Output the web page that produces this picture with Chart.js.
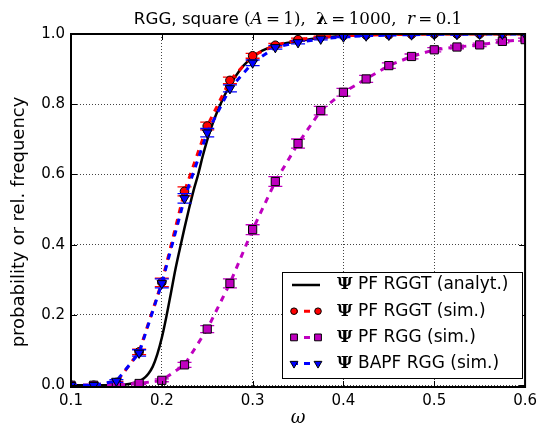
<!DOCTYPE html>
<html>
<head>
<meta charset="utf-8">
<script src="https://cdn.jsdelivr.net/npm/chart.js@4.4.1/dist/chart.umd.min.js"></script>
<style>
  html, body { margin: 0; padding: 0; background: #fff; }
  canvas { display: block; }
</style>
</head>
<body>
<canvas id="chart" width="542" height="434"></canvas>
<script>
// Simulation grid (omega) and the three simulated series with their error bars.
const omega = [0.1, 0.125, 0.15, 0.175, 0.2, 0.225, 0.25, 0.275, 0.3, 0.325, 0.35,
  0.375, 0.4, 0.425, 0.45, 0.475, 0.5, 0.525, 0.55, 0.575, 0.6];

const pfRggtSim = [0, 0, 0.008, 0.095, 0.293, 0.552, 0.738, 0.868, 0.938, 0.968, 0.984,
  0.991, 0.995, 0.997, 0.998, 0.999, 1, 1, 1, 1, 1];
const pfRggtErr = [0, 0.001, 0.003, 0.008, 0.012, 0.013, 0.011, 0.009, 0.007, 0.005, 0.004,
  0.003, 0.002, 0.0015, 0.001, 0.001, 0, 0, 0, 0, 0];

const pfRggSim = [0, 0, 0, 0.005, 0.014, 0.058, 0.16, 0.29, 0.443, 0.58, 0.688,
  0.782, 0.834, 0.872, 0.91, 0.936, 0.955, 0.963, 0.969, 0.979, 0.984];
const pfRggErr = [0, 0, 0, 0.003, 0.004, 0.007, 0.01, 0.013, 0.014, 0.014, 0.013,
  0.012, 0.011, 0.01, 0.008, 0.007, 0.006, 0.005, 0.005, 0.004, 0.004];

const bapfRggSim = [0, 0, 0.012, 0.092, 0.29, 0.532, 0.719, 0.845, 0.918, 0.962, 0.976,
  0.986, 0.992, 0.995, 0.997, 0.998, 0.999, 0.999, 1, 1, 1];
const bapfRggErr = [0, 0.001, 0.004, 0.009, 0.013, 0.0135, 0.012, 0.01, 0.008, 0.005, 0.004,
  0.003, 0.002, 0.0015, 0.001, 0.001, 0.001, 0.001, 0, 0, 0];

// Analytical curve.
const analytOmega = [0.1, 0.14, 0.15, 0.16, 0.17, 0.175, 0.18, 0.185, 0.19, 0.195, 0.2,
  0.205, 0.21, 0.215, 0.22, 0.225, 0.23, 0.235, 0.24, 0.245, 0.25, 0.255, 0.26, 0.265,
  0.27, 0.28, 0.29, 0.3, 0.31, 0.325, 0.35, 0.375, 0.4, 0.45, 0.5, 0.6];
const analytValue = [0, 0, 0.0005, 0.002, 0.007, 0.012, 0.019, 0.032, 0.053, 0.088, 0.135,
  0.195, 0.262, 0.33, 0.39, 0.448, 0.503, 0.555, 0.6, 0.652, 0.698, 0.738, 0.772, 0.802,
  0.83, 0.875, 0.91, 0.934, 0.952, 0.967, 0.979, 0.989, 0.995, 0.999, 1, 1];

const xTicks = [0.1, 0.2, 0.3, 0.4, 0.5, 0.6];
const yTicks = [0, 0.2, 0.4, 0.6, 0.8, 1.0];
const legendLabels = ['PF RGGT (analyt.)', 'PF RGGT (sim.)', 'PF RGG (sim.)', 'BAPF RGG (sim.)'];

const RED = '#ff0000';
const BLUE = '#0000ff';
const MAGENTA = '#bf00bf';

const pts = (xs, ys) => xs.map((x, i) => ({ x, y: ys[i] }));

const simStyle = (color, style, radius, rotation) => ({
  borderColor: color,
  backgroundColor: color,
  borderWidth: 3,
  borderDash: [6, 6],
  tension: 0,
  pointStyle: style,
  pointRadius: radius,
  pointRotation: rotation,
  pointBackgroundColor: color,
  pointBorderColor: '#000',
  pointBorderWidth: 1,
  clip: 0,
});

// vertical error bars with caps, drawn just before each dataset
const errorBars = {
  id: 'errorBars',
  beforeDatasetDraw(chart, args) {
    const ds = chart.data.datasets[args.index];
    if (!ds.errors) return;
    const { ctx, chartArea: a, scales: { x, y } } = chart;
    ctx.save();
    ctx.beginPath();
    ctx.rect(a.left, a.top, a.right - a.left, a.bottom - a.top);
    ctx.clip();
    ctx.strokeStyle = ds.borderColor;
    ctx.lineWidth = 1.3;
    ds.data.forEach((p, i) => {
      const e = ds.errors[i];
      if (!e) return;
      const px = x.getPixelForValue(p.x);
      const y1 = y.getPixelForValue(p.y + e);
      const y2 = y.getPixelForValue(p.y - e);
      ctx.beginPath();
      ctx.moveTo(px, y1); ctx.lineTo(px, y2);
      ctx.moveTo(px - 7, y1); ctx.lineTo(px + 7, y1);
      ctx.moveTo(px - 7, y2); ctx.lineTo(px + 7, y2);
      ctx.stroke();
    });
    ctx.restore();
  },
};

// matplotlib-like frame with inward ticks on all four sides
const frame = {
  id: 'frame',
  afterDatasetsDraw(chart) {
    const { ctx, chartArea: a, scales: { x, y } } = chart;
    ctx.save();
    ctx.strokeStyle = '#000';
    ctx.lineWidth = 1;
    ctx.beginPath();
    xTicks.forEach(v => {
      const px = Math.round(x.getPixelForValue(v)) + 0.5;
      ctx.moveTo(px, a.bottom); ctx.lineTo(px, a.bottom - 6);
      ctx.moveTo(px, a.top); ctx.lineTo(px, a.top + 6);
    });
    yTicks.forEach(v => {
      const py = Math.round(y.getPixelForValue(v)) + 0.5;
      ctx.moveTo(a.left, py); ctx.lineTo(a.left + 6, py);
      ctx.moveTo(a.right, py); ctx.lineTo(a.right - 6, py);
    });
    ctx.stroke();
    ctx.lineWidth = 2;
    ctx.strokeRect(a.left, a.top, a.right - a.left, a.bottom - a.top);
    ctx.restore();
  },
};

function drawRuns(ctx, runs, cx, baseline) {
  let total = 0;
  runs.forEach(r => { ctx.font = r.f; total += ctx.measureText(r.t).width; });
  let px = cx - total / 2;
  runs.forEach(r => {
    ctx.font = r.f;
    ctx.fillText(r.t, px, baseline);
    px += ctx.measureText(r.t).width;
  });
}

const texts = {
  id: 'texts',
  afterDraw(chart) {
    const { ctx, chartArea: a } = chart;
    ctx.save();
    ctx.fillStyle = '#000';
    ctx.textAlign = 'left';
    ctx.textBaseline = 'alphabetic';
    const sans = '16.7px "DejaVu Sans"';
    const serif = '16.7px "DejaVu Serif"';
    drawRuns(ctx, [
      { t: 'RGG, square ', f: sans },
      { t: '(', f: serif },
      { t: 'A', f: 'italic ' + serif },
      { t: '\u2009=\u20091),  ', f: serif },
      { t: '\u03bb', f: 'bold ' + serif },
      { t: '\u2009=\u20091000,  ', f: serif },
      { t: 'r', f: 'italic ' + serif },
      { t: '\u2009=\u20090.1', f: serif },
    ], (a.left + a.right) / 2, 24);

    // axis labels
    ctx.textAlign = 'center';
    ctx.textBaseline = 'middle';
    ctx.font = 'italic 18px "DejaVu Serif"';
    ctx.fillText('\u03c9', (a.left + a.right) / 2, 418);
    ctx.save();
    ctx.translate(19, 222);
    ctx.rotate(-Math.PI / 2);
    ctx.font = '18px "DejaVu Sans"';
    ctx.fillText('probability or rel. frequency', 0, 0);
    ctx.restore();

    // legend
    const bx = 282, by = 272, bw = 240, bh = 106;
    ctx.fillStyle = '#fff';
    ctx.fillRect(bx, by, bw, bh);
    ctx.strokeStyle = '#000';
    ctx.lineWidth = 1;
    ctx.strokeRect(bx + 0.5, by + 0.5, bw, bh);
    chart.data.datasets.forEach((ds, i) => {
      const ry = 285 + i * 26.2;
      ctx.save();
      ctx.strokeStyle = ds.borderColor;
      ctx.lineWidth = ds.borderWidth;
      ctx.setLineDash(ds.borderDash || []);
      ctx.beginPath();
      ctx.moveTo(292, ry); ctx.lineTo(320, ry);
      ctx.stroke();
      ctx.restore();
      if (ds.pointRadius) {
        [294, 318].forEach(mx => {
          ctx.fillStyle = ds.pointBackgroundColor;
          ctx.strokeStyle = ds.pointBorderColor;
          ctx.lineWidth = 1;
          Chart.helpers.drawPoint(ctx, {
            pointStyle: ds.pointStyle, radius: ds.pointRadius - 1,
            rotation: ds.pointRotation || 0, borderWidth: 1,
          }, mx, ry);
        });
      }
      ctx.fillStyle = '#000';
      ctx.textAlign = 'left';
      ctx.font = 'bold 17px "DejaVu Serif"';
      ctx.fillText('\u03a8', 337, ry);
      ctx.font = '17px "DejaVu Sans"';
      ctx.fillText(ds.label, 358, ry);
    });
    ctx.restore();
  },
};

new Chart(document.getElementById('chart'), {
  type: 'line',
  data: {
    datasets: [
      {
        label: legendLabels[0],
        data: pts(analytOmega, analytValue),
        borderColor: '#000',
        borderWidth: 2.5,
        pointRadius: 0,
        cubicInterpolationMode: 'monotone',
        clip: 0,
        order: 3,
      },
      { label: legendLabels[1], data: pts(omega, pfRggtSim), errors: pfRggtErr,
        ...simStyle(RED, 'circle', 4.3, 0), order: 2 },
      { label: legendLabels[2], data: pts(omega, pfRggSim), errors: pfRggErr,
        ...simStyle(MAGENTA, 'rect', 5.8, 0), order: 1 },
      { label: legendLabels[3], data: pts(omega, bapfRggSim), errors: bapfRggErr,
        ...simStyle(BLUE, 'triangle', 5.5, 180), order: 0 },
    ],
  },
  options: {
    responsive: false,
    animation: false,
    layout: { padding: { top: 34, right: 15, left: 0, bottom: 0 } },
    scales: {
      x: {
        type: 'linear',
        min: 0.1,
        max: 0.6,
        afterBuildTicks: s => { s.ticks = xTicks.map(value => ({ value })); },
        afterFit: s => { s.height = 47; },
        border: { display: false, dash: [1, 2] },
        grid: { color: '#444', lineWidth: 1, drawTicks: false },
        ticks: {
          color: '#000',
          padding: 5,
          maxRotation: 0,
          font: { family: 'DejaVu Sans', size: 15 },
          callback: v => v.toFixed(1),
        },
      },
      y: {
        type: 'linear',
        min: -0.005,
        max: 1.0,
        afterBuildTicks: s => { s.ticks = yTicks.map(value => ({ value })); },
        afterFit: s => { s.width = 71; },
        border: { display: false, dash: [1, 2] },
        grid: { color: '#444', lineWidth: 1, drawTicks: false },
        ticks: {
          color: '#000',
          padding: 6,
          font: { family: 'DejaVu Sans', size: 15 },
          callback: v => v.toFixed(1),
        },
      },
    },
    plugins: {
      legend: { display: false },
      title: { display: false },
      tooltip: { enabled: false },
    },
  },
  plugins: [errorBars, frame, texts],
});
</script>
</body>
</html>
